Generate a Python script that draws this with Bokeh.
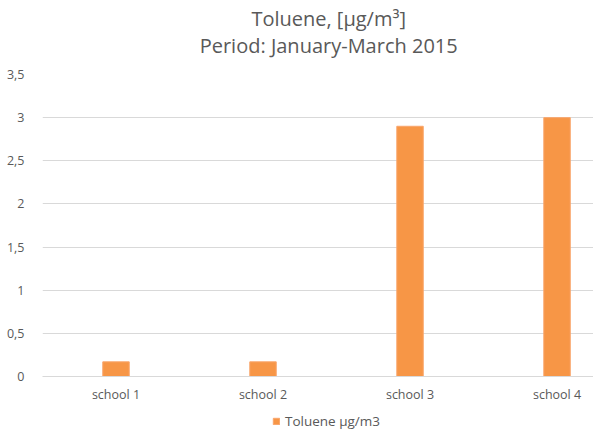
from bokeh.plotting import figure
from bokeh.layouts import column
from bokeh.models import Range1d, FixedTicker, Legend, LegendItem, Label, ColumnDataSource
from bokeh.embed import file_html
from bokeh.resources import INLINE

categories = ["school 1", "school 2", "school 3", "school 4"]
values = [0.17, 0.17, 2.9, 3.0]
positions = [0.5, 1.5, 2.5, 3.5]
y_ticks = [0, 0.5, 1, 1.5, 2, 2.5, 3, 3.5]
y_labels = ["0", "0,5", "1", "1,5", "2", "2,5", "3", "3,5"]
series_name = "Toluene µg/m3"
title_lines = ["Toluene, [µg/m³]", "Period: January-March 2015"]

GRAY = "#595959"
FONT = "Open Sans"
BAR = "#F79646"
W = 593

# ---- title strip ----
p0 = figure(width=W, height=62, output_backend="svg", toolbar_location=None,
            x_range=Range1d(0, W), y_range=Range1d(0, 62),
            x_axis_location=None, y_axis_location=None,
            min_border_left=0, min_border_right=0, min_border_top=0, min_border_bottom=0)
p0.outline_line_color = None
p0.grid.visible = False
for txt, ypos in zip(title_lines, [44, 17]):
    p0.add_layout(Label(x=308, y=ypos, text=txt, text_align="center", text_baseline="middle",
                        text_font=FONT, text_font_size="20px", text_color=GRAY))

# ---- main chart ----
p = figure(width=W, height=343, output_backend="svg", toolbar_location=None,
           x_range=Range1d(0, 3.748), y_range=Range1d(0, 3.5),
           min_border_left=42, min_border_right=0, min_border_top=12, min_border_bottom=28)
p.outline_line_color = None

src = ColumnDataSource(dict(x=positions, top=values))
r = p.vbar(x="x", top="top", width=0.18, bottom=0, source=src,
           fill_color=BAR, line_color="#F9A66C", line_width=1)

p.xaxis.ticker = FixedTicker(ticks=positions)
p.xaxis.major_label_overrides = {pos: c for pos, c in zip(positions, categories)}
p.xaxis.axis_line_color = "#d9d9d9"
p.xaxis.major_tick_line_color = None
p.xaxis.minor_tick_line_color = None
p.xaxis.major_label_text_font = FONT
p.xaxis.major_label_text_font_size = "12.5px"
p.xaxis.major_label_text_color = GRAY
p.xaxis.major_label_standoff = 3

p.yaxis.ticker = FixedTicker(ticks=y_ticks)
p.yaxis.major_label_overrides = {t: l for t, l in zip(y_ticks, y_labels)}
p.yaxis.axis_line_color = None
p.yaxis.major_tick_line_color = None
p.yaxis.minor_tick_line_color = None
p.yaxis.major_label_text_font = FONT
p.yaxis.major_label_text_font_size = "12.5px"
p.yaxis.major_label_text_color = GRAY
p.yaxis.major_label_standoff = 12

p.xgrid.grid_line_color = None
p.ygrid.grid_line_color = "#d9d9d9"
p.ygrid.ticker = FixedTicker(ticks=y_ticks)

# ---- legend strip (bars out of view) ----
p2 = figure(width=W, height=28, output_backend="svg", toolbar_location=None,
            x_range=Range1d(0, 3.748), y_range=Range1d(100, 101),
            x_axis_location=None, y_axis_location=None,
            min_border_left=0, min_border_right=0, min_border_top=0, min_border_bottom=0)
p2.outline_line_color = None
p2.grid.visible = False
r2 = p2.vbar(x="x", top="top", width=0.18, bottom=0, source=src,
             fill_color=BAR, line_color="#F9A66C", line_width=1)
legend = Legend(items=[LegendItem(label=series_name, renderers=[r2])],
                orientation="horizontal", location=(230, 3),
                label_text_font=FONT, label_text_font_size="13.5px", label_text_color=GRAY,
                glyph_width=8, glyph_height=8, border_line_color=None,
                background_fill_alpha=0, margin=0, padding=2, label_standoff=5)
p2.add_layout(legend, "center")

layout = column(p0, p, p2, spacing=0)
open("out.html", "w").write(file_html(layout, INLINE))
